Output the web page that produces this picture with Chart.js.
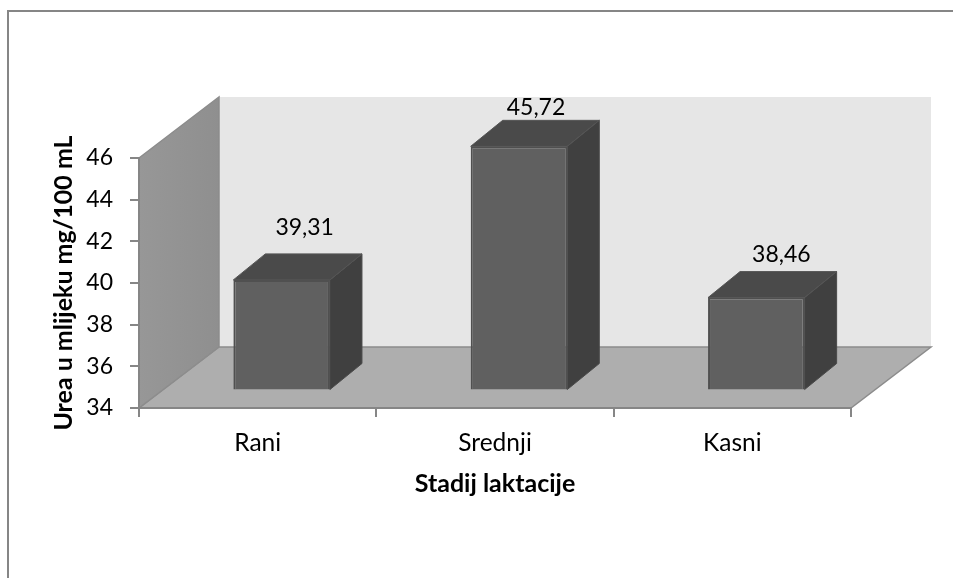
<!DOCTYPE html>
<html><head><meta charset="utf-8">
<style>html,body{margin:0;padding:0;background:#fff}canvas{display:block}</style>
<script src="https://cdn.jsdelivr.net/npm/chart.js@4/dist/chart.umd.js"></script>
</head><body><canvas id="c" width="953" height="578"></canvas>
<script>
const categories = ['Rani','Srednji','Kasni'];
const ureaValues = [39.31,45.72,38.46];
const yTicks = [34,36,38,40,42,44,46];
const xTitle = 'Stadij laktacije';
const yTitle = 'Urea u mlijeku mg/100 mL';
const FONT = 'Lato, Carlito, sans-serif';

// 3D look
const wall = {dx:80, dy:-61};       // back wall offset from the axis plane
const barShift = {dx:24, dy:-17.5}; // bar front plane offset from the axis plane
const barDepth = {dx:32, dy:-26};   // bar depth
const labelNudge = [{dx:47,dy:-26},{dx:41,dy:-13},{dx:49,dy:-17}]; // label centre from category x / bar top-back

function poly(ctx, pts, fill, stroke, lw){
  ctx.beginPath();
  pts.forEach((p,i)=> i?ctx.lineTo(p[0],p[1]):ctx.moveTo(p[0],p[1]));
  ctx.closePath();
  if(fill){ctx.fillStyle=fill;ctx.fill();}
  if(stroke){ctx.strokeStyle=stroke;ctx.lineWidth=lw||1.5;ctx.lineJoin='miter';ctx.stroke();}
}

const scene = {
  id:'scene',
  beforeDraw(chart){
    const {ctx,chartArea:a} = chart;
    ctx.save();
    // frame
    ctx.strokeStyle='#868686';ctx.lineWidth=2;
    ctx.beginPath();ctx.moveTo(8,chart.height);ctx.lineTo(8,11);ctx.lineTo(chart.width,11);ctx.stroke();
    const L=a.left,R=a.right,T=a.top,B=a.bottom,dx=wall.dx,dy=wall.dy;
    // back wall
    poly(ctx,[[L+dx,T+dy],[R+dx,T+dy],[R+dx,B+dy],[L+dx,B+dy]],'#e6e6e6');
    // floor
    poly(ctx,[[L,B],[R,B],[R+dx,B+dy],[L+dx,B+dy]],'#aeaeae','#8c8c8c',1.5);
    // left wall
    const g=ctx.createLinearGradient(L,0,L+dx,0);
    g.addColorStop(0,'#979797');g.addColorStop(1,'#8f8f8f');
    poly(ctx,[[L,T],[L+dx,T+dy],[L+dx,B+dy],[L,B]],g,'#8c8c8c',1.5);
    ctx.restore();
  },
  beforeDatasetsDraw(chart){
    const {ctx} = chart;
    ctx.save();
    ctx.translate(barShift.dx,barShift.dy);
    chart.getDatasetMeta(0).data.forEach(b=>{
      const l=b.x-b.width/2,r=b.x+b.width/2,t=b.y,bt=b.base,dx=barDepth.dx,dy=barDepth.dy;
      poly(ctx,[[r,t],[r+dx,t+dy],[r+dx,bt+dy],[r,bt]],'#404040','#4a4a4a',1);
      poly(ctx,[[l,t],[l+dx,t+dy],[r+dx,t+dy],[r,t]],'#4a4a4a','#555555',1);
    });
  },
  afterDatasetsDraw(chart){
    const {ctx} = chart;
    ctx.restore();
    ctx.save();
    ctx.fillStyle='#000';
    ctx.font='23px '+FONT;
    ctx.textAlign='center';ctx.textBaseline='middle';
    const xs=chart.scales.x,ys=chart.scales.y;
    ureaValues.forEach((v,i)=>{
      const n=labelNudge[i];
      const x=xs.getPixelForValue(i)+n.dx;
      const y=ys.getPixelForValue(v)+barShift.dy+barDepth.dy+n.dy;
      ctx.fillText(v.toFixed(2).replace('.',','),x,y);
    });
    ctx.restore();
  }
};

new Chart(document.getElementById('c'),{
  type:'bar',
  data:{labels:categories,datasets:[{
    data:ureaValues,
    base:yTicks[0],
    backgroundColor:'#606060',
    borderColor:'#505050',
    borderWidth:2,
    barPercentage:0.407,
    categoryPercentage:1
  }]},
  plugins:[scene],
  options:{
    responsive:false,animation:false,
    layout:{padding:{top:158,right:102,left:49,bottom:79}},
    plugins:{legend:{display:false},tooltip:{enabled:false},title:{display:false}},
    scales:{
      x:{
        grid:{drawOnChartArea:false,drawTicks:true,tickLength:9,color:'#868686',lineWidth:2},
        border:{color:'#868686',width:2},
        ticks:{color:'#000',font:{family:FONT,size:24.5},padding:11,maxRotation:0},
        title:{display:true,text:xTitle,color:'#000',font:{family:FONT,size:25,weight:'bold'},padding:{top:8,bottom:0}},
        afterFit(s){s.height=91;}
      },
      y:{
        min:34,max:46,
        afterBuildTicks(s){s.ticks=yTicks.map(v=>({value:v}));},
        grid:{drawOnChartArea:false,drawTicks:true,tickLength:9,color:'#868686',lineWidth:2},
        border:{color:'#868686',width:2},
        ticks:{color:'#000',font:{family:FONT,size:23},padding:17},
        title:{display:true,text:yTitle,color:'#000',font:{family:FONT,size:25,weight:'bold'},padding:{top:0,bottom:4}},
        afterFit(s){s.width=90;}
      }
    }
  }
});
</script></body></html>
